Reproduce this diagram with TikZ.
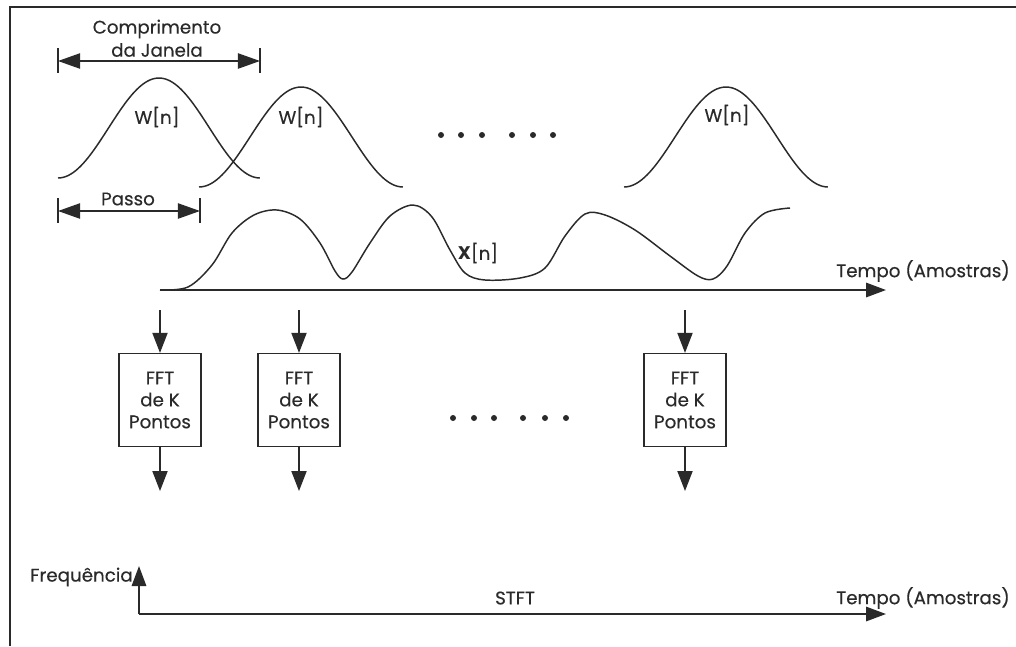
\documentclass[tikz,border=0pt]{standalone}
\usepackage{fontspec}
\setmainfont{Poppins}[UprightFeatures={FakeBold=0.35}]
\usetikzlibrary{arrows.meta,calc}
\definecolor{ink}{HTML}{2A2A2A}
\begin{document}
\begin{tikzpicture}[x=0.025cm,y=-0.025cm,
  every node/.style={font=\fontsize{13}{15.6}\selectfont, text=ink, inner sep=0pt},
  curve/.style={draw=ink, line width=1.05pt},
  axis/.style={draw=ink, line width=1.3pt, -{Triangle[length=0.5cm,width=0.36cm]}},
  flow/.style={draw=ink, line width=0.9pt, -{Triangle[length=0.5cm,width=0.38cm]}},
  dimline/.style={draw=ink, line width=1.1pt,
    {Triangle[length=0.55cm,width=0.38cm]}-{Triangle[length=0.55cm,width=0.38cm]}},
  tickmark/.style={draw=ink, line width=1.1pt},
  fftbox/.style={draw=ink, line width=0.9pt, fill=white, align=center,
    minimum width=2.05cm, minimum height=2.325cm},
  dot/.style={fill=ink}
]
\useasboundingbox (0,0) rectangle (1016,646);

% frame
\draw[ink, line width=1.8pt] (1016,7) -- (10,7) -- (10,646);

% window length dimension
\node (comp) at (157,29) {Comprimento};
\node (jan) at (157,50) {da Janela};
\coordinate (cl) at (58,61);
\coordinate (cr) at (260,61);
\draw[dimline] (cl) -- (cr);
\draw[tickmark] ($(cl)+(0,-13)$) -- ($(cl)+(0,12)$);
\draw[tickmark] ($(cr)+(0,-13)$) -- ($(cr)+(0,12)$);

% windows w[n] (raised cosine)
\draw[curve] plot[domain=0:1, samples=80, smooth] ({58+202*\x},{178-100*(0.5-0.5*cos(360*\x))});
\draw[curve] plot[domain=0:1, samples=80, smooth] ({199+204*\x},{187-100*(0.5-0.5*cos(360*\x))});
\draw[curve] plot[domain=0:1, samples=80, smooth] ({624+204*\x},{187-100*(0.5-0.5*cos(360*\x))});
\node (w1) at (157,117) {W[n]};
\node (w2) at (301,117) {W[n]};
\node (w3) at (727,115) {W[n]};

% dots between windows
\foreach \d in {441,461,482,512,533,553} \fill[dot] (\d,135) circle (0.075cm);

% step dimension
\node (passo) at (128,199) {Passo};
\coordinate (pl) at (58,211);
\coordinate (pr) at (200,211);
\draw[dimline] (pl) -- (pr);
\draw[tickmark] ($(pl)+(0,-13)$) -- ($(pl)+(0,12)$);
\draw[tickmark] ($(pr)+(0,-13)$) -- ($(pr)+(0,12)$);

% signal x[n]
\draw[curve] plot[smooth, tension=0.55] coordinates {
  (160,290) (188,287) (212,265) (232,233) (254,215) (277,210) (300,219)
  (320,243) (335,271) (343,279) (352,272) (370,243) (390,216) (413,205)
  (432,217) (450,250) (465,273) (485,280) (520,278) (545,268) (565,236)
  (585,214) (605,215) (635,230) (670,256) (698,276) (713,279) (727,266)
  (745,233) (765,213) (790,208)};
\node (xn) at (478,253) {\textbf{X}[n]};

% time axis
\coordinate (t0) at (160,290);
\coordinate (t1) at (886,290);
\draw[axis] (t0) -- (t1);
\node (tempo1) at (923,271) {Tempo (Amostras)};

% FFT blocks
\node[fftbox] (fft1) at (160,400) {FFT\\de K\\Pontos};
\node[fftbox] (fft2) at (299,400) {FFT\\de K\\Pontos};
\node[fftbox] (fft3) at (685,400) {FFT\\de K\\Pontos};
\foreach \b/\xx in {fft1/160,fft2/299,fft3/685}{
  \coordinate (\b in) at (\xx,310);
  \coordinate (\b out) at (\xx,491);
  \draw[flow] (\b in) -- (\b.north);
  \draw[flow] (\b.south) -- (\b out);
}

% dots between blocks
\foreach \d in {453,474,494,523,545,566} \fill[dot] (\d,418) circle (0.075cm);

% time-frequency plane
\coordinate (o) at (139,614);
\coordinate (fy) at (139,566);
\coordinate (fx) at (886,614);
\draw[axis] (o) -- (fy);
\draw[axis] (o) -- (fx);
\node[anchor=east] (freq) at (133,577) {Frequência};
\node (stft) at (515,598) {STFT};
\node (tempo2) at (923,598) {Tempo (Amostras)};
\end{tikzpicture}
\end{document}
